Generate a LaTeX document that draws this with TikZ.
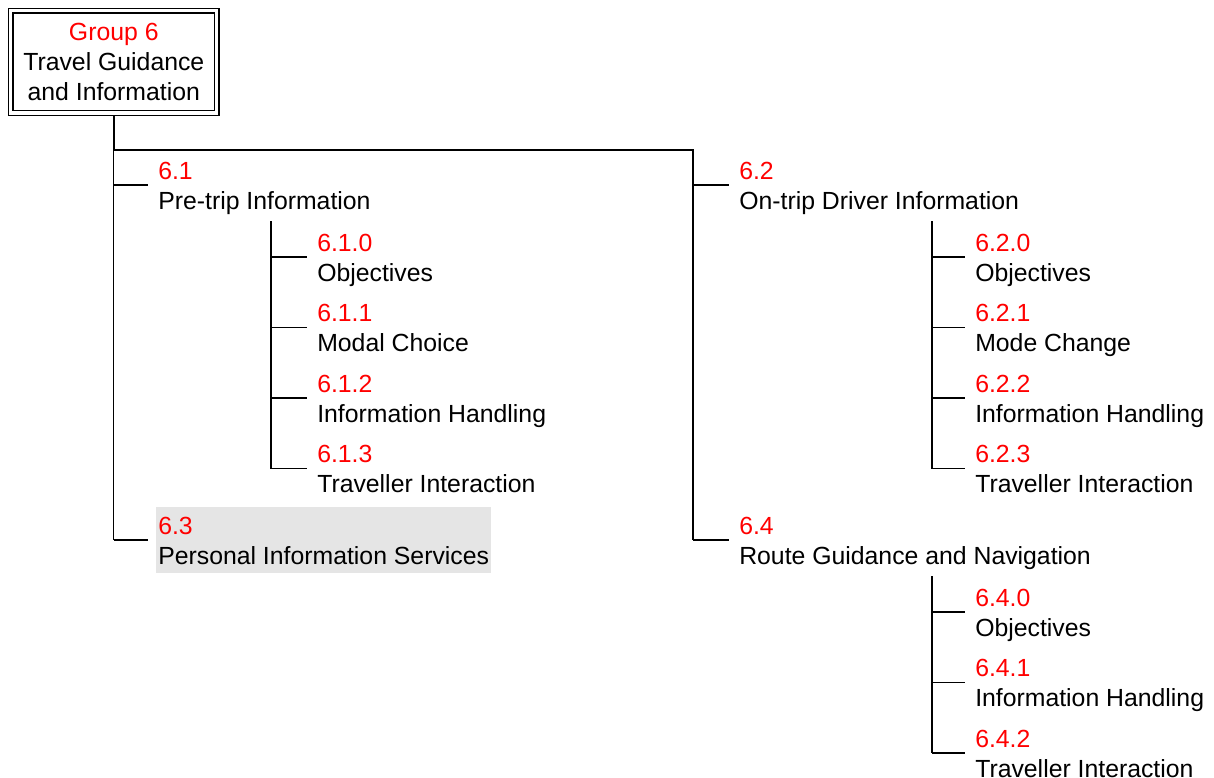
\documentclass[tikz,border=0pt]{standalone}
\usepackage{fontspec}
\setmainfont{Liberation Sans}
\usetikzlibrary{positioning}
\newcommand{\topstrut}{\rule{0pt}{18.1pt}}
\newcommand{\botstrut}{\rule[-4.5pt]{0pt}{4.5pt}}
\newcommand{\secitem}[2]{\topstrut\textcolor{red}{#1}\\\botstrut #2}
\tikzset{group node/.style={draw,double,line width=0.9pt,double distance=2.4pt,align=center,
            minimum width=154.6pt,minimum height=76.6pt,inner sep=0pt},
         sec node/.style={anchor=west,align=left,inner xsep=1.5pt,inner ysep=1.8pt},
         grey node/.style={sec node,fill=gray!20},
         bus line/.style={line width=1.3pt},
         stub line/.style={line width=0.8pt},
            }

\begin{document}
\begin{tikzpicture}[x=0.75pt,y=-0.75pt,font=\fontsize{18.6}{22.6}\selectfont]
    \useasboundingbox (0,0) rectangle (1214,778);

    \node[group node] (g6) at (113.8,61.9) {\rule{0pt}{17.7pt}\textcolor{red}{Group 6}\\\strut Travel Guidance\\\rule[-4.9pt]{0pt}{4.9pt}and Information};

    \node[sec node] (s61) at (156,185) {\secitem{6.1}{Pre-trip Information}};
    \node[sec node] (s62) at (737,185) {\secitem{6.2}{On-trip Driver Information}};
    \node[grey node] (s63) at (156,540) {\secitem{6.3}{Personal Information Services}};
    \node[sec node] (s64) at (737,540) {\secitem{6.4}{Route Guidance and Navigation}};

    \node[sec node] (s610) at (315,257)   {\secitem{6.1.0}{Objectives}};
    \node[sec node] (s611) at (315,327.5) {\secitem{6.1.1}{Modal Choice}};
    \node[sec node] (s612) at (315,398)   {\secitem{6.1.2}{Information Handling}};
    \node[sec node] (s613) at (315,468.5) {\secitem{6.1.3}{Traveller Interaction}};

    \node[sec node] (s620) at (973,257)   {\secitem{6.2.0}{Objectives}};
    \node[sec node] (s621) at (973,327.5) {\secitem{6.2.1}{Mode Change}};
    \node[sec node] (s622) at (973,398)   {\secitem{6.2.2}{Information Handling}};
    \node[sec node] (s623) at (973,468.5) {\secitem{6.2.3}{Traveller Interaction}};

    \node[sec node] (s640) at (973,612)   {\secitem{6.4.0}{Objectives}};
    \node[sec node] (s641) at (973,682.5) {\secitem{6.4.1}{Information Handling}};
    \node[sec node] (s642) at (973,753)   {\secitem{6.4.2}{Traveller Interaction}};

    % trunk
    \coordinate (j6) at (g6.south |- 0,150);
    \coordinate (r6) at (693,150);
    \draw[bus line] ([yshift=-1.3pt]g6.south) -- (j6) -- (r6) -- (r6 |- s64.west);
    \draw[stub line] (j6) -- (j6 |- s63.west);

    % buses
    \coordinate (b61) at (271,221);
    \coordinate (b62) at (932,221);
    \coordinate (b64) at (932,576);
    \draw[bus line] (b61) -- (b61 |- s613.west);
    \draw[bus line] (b62) -- (b62 |- s623.west);
    \draw[bus line] (b64) -- (b64 |- s642.west);

    \path[draw,stub line]
    (j6 |- s61.west) -- ([xshift=-6pt]s61.west)
    (j6 |- s63.west) -- ([xshift=-6pt]s63.west)
    (r6 |- s62.west) -- ([xshift=-6pt]s62.west)
    (r6 |- s64.west) -- ([xshift=-6pt]s64.west)
    (b61 |- s610.west) -- ([xshift=-6pt]s610.west)
    (b61 |- s611.west) -- ([xshift=-6pt]s611.west)
    (b61 |- s612.west) -- ([xshift=-6pt]s612.west)
    (b61 |- s613.west) -- ([xshift=-6pt]s613.west)
    (b62 |- s620.west) -- ([xshift=-6pt]s620.west)
    (b62 |- s621.west) -- ([xshift=-6pt]s621.west)
    (b62 |- s622.west) -- ([xshift=-6pt]s622.west)
    (b62 |- s623.west) -- ([xshift=-6pt]s623.west)
    (b64 |- s640.west) -- ([xshift=-6pt]s640.west)
    (b64 |- s641.west) -- ([xshift=-6pt]s641.west)
    (b64 |- s642.west) -- ([xshift=-6pt]s642.west);

\end{tikzpicture}
\end{document}
